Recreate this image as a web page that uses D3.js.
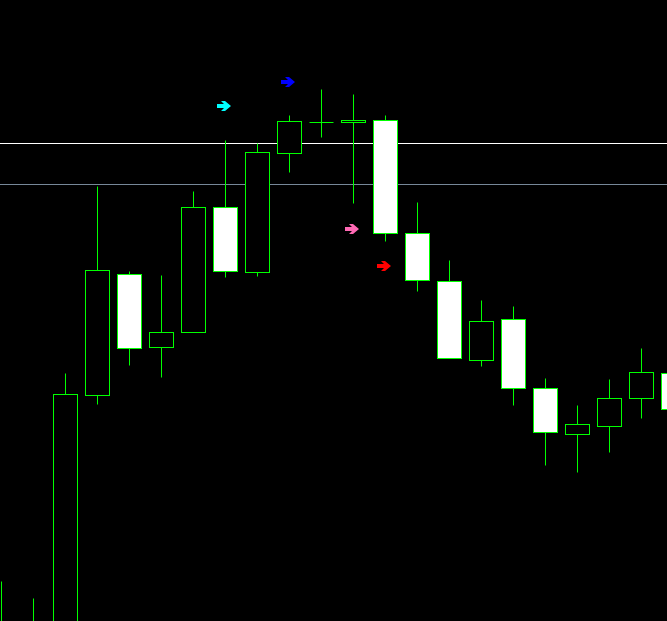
<!DOCTYPE html>
<html>
<head>
<meta charset="utf-8">
<script src="https://cdn.jsdelivr.net/npm/d3@7"></script>
<style>
  body { margin: 0; background: #000; }
  svg { display: block; }
</style>
</head>
<body>
<svg id="chart" width="667" height="621"></svg>
<script>
// bar index of each candle (0 = leftmost visible)
var bars   = [0, 1, 2, 3, 4, 5, 6, 7, 8, 9, 10, 11, 12, 13, 14, 15, 16, 17, 18, 19, 20, 21];
var open   = [1.1330, 1.1340, 1.1300, 1.1605, 1.1726, 1.1653, 1.1668, 1.1793, 1.1728, 1.1847, 1.1878, 1.1878, 1.1880, 1.1767, 1.1719, 1.1640, 1.1681, 1.1612, 1.1566, 1.1574, 1.1602, 1.1627];
var high   = [1.1419, 1.1402, 1.1627, 1.1814, 1.1729, 1.1725, 1.1809, 1.1860, 1.1857, 1.1885, 1.1911, 1.1906, 1.1885, 1.1798, 1.1740, 1.1700, 1.1694, 1.1622, 1.1595, 1.1621, 1.1652, 1.1640];
var low    = [1.1300, 1.1320, 1.1280, 1.1596, 1.1635, 1.1623, 1.1668, 1.1723, 1.1724, 1.1828, 1.1863, 1.1797, 1.1759, 1.1709, 1.1642, 1.1634, 1.1595, 1.1535, 1.1528, 1.1548, 1.1582, 1.1580];
var close  = [1.1360, 1.1360, 1.1606, 1.1730, 1.1652, 1.1668, 1.1793, 1.1729, 1.1848, 1.1879, 1.1878, 1.1880, 1.1767, 1.1720, 1.1642, 1.1679, 1.1612, 1.1568, 1.1576, 1.1602, 1.1628, 1.1591];

// horizontal levels
var levels      = [1.1857, 1.1816];
var levelColors = ["#ffffff", "#778899"];

// signal arrows
var arrowBars   = [7, 9, 11, 12];
var arrowPrices = [1.1894, 1.1918, 1.1771, 1.1734];
var arrowColors = ["#00ffff", "#0000ff", "#ff69b4", "#ff0000"];

var svg = d3.select("#chart");
var W = +svg.attr("width");
var H = +svg.attr("height");

svg.append("rect").attr("width", W).attr("height", H).attr("fill", "#000");

var x = d3.scaleLinear().domain([0, 21]).range([1, 673]);
var y = d3.scaleLinear().domain([1.2000, 1.1379]).range([0, H]);

var crisp = function(v) { return Math.round(v) + 0.5; };

// levels (behind candles)
levels.forEach(function(p, i) {
    svg.append("line")
        .attr("x1", 0).attr("x2", W)
        .attr("y1", crisp(y(p))).attr("y2", crisp(y(p)))
        .style("stroke", levelColors[i])
        .style("stroke-width", 1);
});

var half = 12;
var g = svg.append("g");

bars.forEach(function(b, i) {
    var cx = crisp(x(b));
    g.append("line")
        .attr("x1", cx).attr("x2", cx)
        .attr("y1", crisp(y(high[i]))).attr("y2", crisp(y(low[i])))
        .style("stroke", "#00ff00")
        .style("stroke-width", 1);

    var top = crisp(y(Math.max(open[i], close[i])));
    var bot = crisp(y(Math.min(open[i], close[i])));
    if (bot - top < 1) {
        // doji: body collapses to a flat line
        g.append("line")
            .attr("x1", cx - half).attr("x2", cx + half)
            .attr("y1", top).attr("y2", top)
            .style("stroke", "#00ff00")
            .style("stroke-width", 1);
        return;
    }
    g.append("rect")
        .attr("x", cx - half)
        .attr("y", top)
        .attr("width", half * 2)
        .attr("height", bot - top)
        .style("fill", close[i] >= open[i] ? "#000" : "#fff")
        .style("stroke", "#00ff00")
        .style("stroke-width", 1);
});

// arrow glyph: shaft + head, centred on (0,0)
var arrowShape = "M-7,-2 L0,-2 L-3,-5 L1,-5 L7,0 L1,5 L-3,5 L0,2 L-7,2 Z";

arrowBars.forEach(function(b, i) {
    svg.append("path")
        .attr("d", arrowShape)
        .attr("transform", "translate(" + (x(b) - 1) + "," + y(arrowPrices[i]) + ")")
        .style("fill", arrowColors[i]);
});
</script>
</body>
</html>
